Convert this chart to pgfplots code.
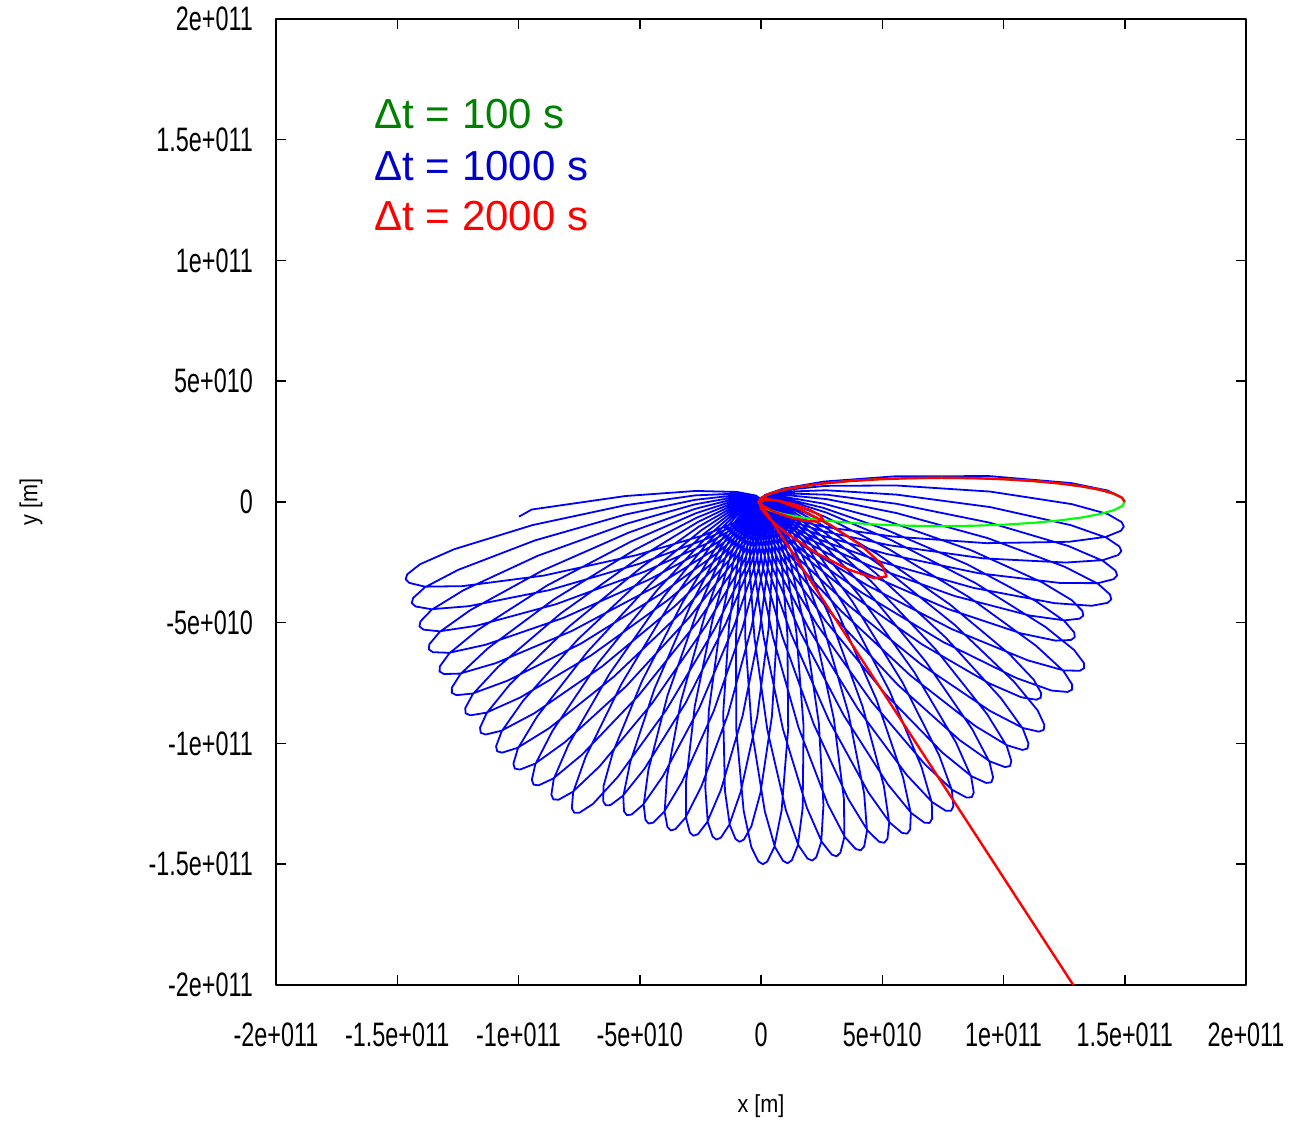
\documentclass[border=0pt]{standalone}
\usepackage{fontspec}
\setmainfont{Liberation Sans}
\newfontfamily\tickfont[FakeStretch=0.69]{Liberation Sans}
\newfontfamily\labfont[FakeStretch=0.88]{Liberation Sans}
\usepackage{pgfplots}
\pgfplotsset{compat=1.18}
\usepgfplotslibrary{polar}
\definecolor{gline}{RGB}{0,255,0}
\definecolor{gtext}{RGB}{0,128,0}
\definecolor{btext}{RGB}{0,0,204}
\definecolor{bline}{RGB}{0,0,255}
\definecolor{rline}{RGB}{255,0,0}
\begin{document}
\begin{tikzpicture}
\begin{axis}[
  scale only axis, width=323.3pt, height=322pt,
  xmin=-2,xmax=2,ymin=-2,ymax=2,
  xtick={-2,-1.5,-1,-0.5,0,0.5,1,1.5,2},
  ytick={-2,-1.5,-1,-0.5,0,0.5,1,1.5,2},
  xticklabels={-2e+011,-1.5e+011,-1e+011,-5e+010,0,5e+010,1e+011,1.5e+011,2e+011},
  yticklabels={-2e+011,-1.5e+011,-1e+011,-5e+010,0,5e+010,1e+011,1.5e+011,2e+011},
  tick align=inside, major tick length=3.3pt,
  every tick/.style={black, line width=0.5pt},
  axis line style={black, line width=0.5pt},
  xticklabel style={font=\tickfont\fontsize{11.3}{13}\selectfont, yshift=-9.0pt},
  yticklabel style={font=\tickfont\fontsize{11.3}{13}\selectfont, xshift=-4.2pt},
  xlabel={x [m]}, ylabel={y [m]},
  xlabel style={font=\labfont\fontsize{8.2}{10}\selectfont, at={(axis description cs:0.5,-0.125)}, anchor=center},
  ylabel style={font=\labfont\fontsize{8.2}{10}\selectfont, at={(axis description cs:-0.2527,0.5)}, anchor=center},
  line join=round,
]
% Delta t = 1000 s (polar data: angle in degrees, radius in 1e11 m)
\addplot[bline, line width=0.6pt, data cs=polar, no markers] coordinates {
(0,1.5) (0.7,1.489) (1.9,1.430) (3.5,1.281) (6.5,0.946) (10.9,0.560) (18.0,0.273) (31.1,0.107) (61.1,0.033) (180,0.01)
(-65.0,0.033) (-35.0,0.107) (-21.9,0.273) (-14.8,0.560) (-10.4,0.946) (-7.4,1.281) (-5.8,1.430) (-4.6,1.489) (-3.9,1.5) (-3.2,1.489) (-2.0,1.430) (-0.4,1.281) (2.6,0.946) (7.0,0.560) (14.1,0.273) (27.2,0.107) (57.2,0.033) (176.1,0.01)
(-68.9,0.033) (-38.9,0.107) (-25.8,0.273) (-18.7,0.560) (-14.3,0.946) (-11.3,1.281) (-9.7,1.430) (-8.5,1.489) (-7.8,1.5) (-7.1,1.489) (-5.9,1.430) (-4.3,1.281) (-1.3,0.946) (3.1,0.560) (10.2,0.273) (23.3,0.107) (53.3,0.033) (172.2,0.01)
(-72.8,0.033) (-42.8,0.107) (-29.7,0.273) (-22.6,0.560) (-18.2,0.946) (-15.2,1.281) (-13.6,1.430) (-12.4,1.489) (-11.7,1.5) (-11.0,1.489) (-9.8,1.430) (-8.2,1.281) (-5.2,0.946) (-0.8,0.560) (6.3,0.273) (19.4,0.107) (49.4,0.033) (168.3,0.01)
(-76.7,0.033) (-46.7,0.107) (-33.6,0.273) (-26.5,0.560) (-22.1,0.946) (-19.1,1.281) (-17.5,1.430) (-16.3,1.489) (-15.6,1.5) (-14.9,1.489) (-13.7,1.430) (-12.1,1.281) (-9.1,0.946) (-4.7,0.560) (2.4,0.273) (15.5,0.107) (45.5,0.033) (164.4,0.01)
(-80.6,0.031) (-50.6,0.101) (-37.5,0.257) (-30.4,0.526) (-26.0,0.889) (-23.0,1.204) (-21.4,1.344) (-20.2,1.400) (-19.5,1.41) (-18.8,1.400) (-17.6,1.344) (-16.0,1.204) (-13.0,0.889) (-8.6,0.526) (-1.5,0.257) (11.6,0.101) (41.6,0.031) (160.5,0.01)
(-84.5,0.031) (-54.5,0.101) (-41.4,0.257) (-34.3,0.526) (-29.9,0.889) (-26.9,1.204) (-25.3,1.344) (-24.1,1.400) (-23.4,1.41) (-22.7,1.400) (-21.5,1.344) (-19.9,1.204) (-16.9,0.889) (-12.5,0.526) (-5.4,0.257) (7.7,0.101) (37.7,0.031) (156.6,0.01)
(-88.4,0.033) (-58.4,0.107) (-45.3,0.273) (-38.2,0.560) (-33.8,0.946) (-30.8,1.281) (-29.2,1.430) (-28.0,1.489) (-27.3,1.5) (-26.6,1.489) (-25.4,1.430) (-23.8,1.281) (-20.8,0.946) (-16.4,0.560) (-9.3,0.273) (3.8,0.107) (33.8,0.033) (152.7,0.01)
(-92.3,0.033) (-62.3,0.107) (-49.2,0.273) (-42.1,0.560) (-37.7,0.946) (-34.7,1.281) (-33.1,1.430) (-31.9,1.489) (-31.2,1.5) (-30.5,1.489) (-29.3,1.430) (-27.7,1.281) (-24.7,0.946) (-20.3,0.560) (-13.2,0.273) (-0.1,0.107) (29.9,0.033) (148.8,0.01)
(-96.2,0.031) (-66.2,0.101) (-53.1,0.257) (-46.0,0.526) (-41.6,0.889) (-38.6,1.204) (-37.0,1.344) (-35.8,1.400) (-35.1,1.41) (-34.4,1.400) (-33.2,1.344) (-31.6,1.204) (-28.6,0.889) (-24.2,0.526) (-17.1,0.257) (-4.0,0.101) (26.0,0.031) (144.9,0.01)
(-100.1,0.033) (-70.1,0.107) (-57.0,0.273) (-49.9,0.560) (-45.5,0.946) (-42.5,1.281) (-40.9,1.430) (-39.7,1.489) (-39.0,1.5) (-38.3,1.489) (-37.1,1.430) (-35.5,1.281) (-32.5,0.946) (-28.1,0.560) (-21.0,0.273) (-7.9,0.107) (22.1,0.033) (141.0,0.01)
(-104.0,0.033) (-74.0,0.107) (-60.9,0.273) (-53.8,0.560) (-49.4,0.946) (-46.4,1.281) (-44.8,1.430) (-43.6,1.489) (-42.9,1.5) (-42.2,1.489) (-41.0,1.430) (-39.4,1.281) (-36.4,0.946) (-32.0,0.560) (-24.9,0.273) (-11.8,0.107) (18.2,0.033) (137.1,0.01)
(-107.9,0.033) (-77.9,0.107) (-64.8,0.273) (-57.7,0.560) (-53.3,0.946) (-50.3,1.281) (-48.7,1.430) (-47.5,1.489) (-46.8,1.5) (-46.1,1.489) (-44.9,1.430) (-43.3,1.281) (-40.3,0.946) (-35.9,0.560) (-28.8,0.273) (-15.7,0.107) (14.3,0.033) (133.2,0.01)
(-111.8,0.033) (-81.8,0.107) (-68.7,0.273) (-61.6,0.560) (-57.2,0.946) (-54.2,1.281) (-52.6,1.430) (-51.4,1.489) (-50.7,1.5) (-50.0,1.489) (-48.8,1.430) (-47.2,1.281) (-44.2,0.946) (-39.8,0.560) (-32.7,0.273) (-19.6,0.107) (10.4,0.033) (129.3,0.01)
(-115.7,0.033) (-85.7,0.107) (-72.6,0.273) (-65.5,0.560) (-61.1,0.946) (-58.1,1.281) (-56.5,1.430) (-55.3,1.489) (-54.6,1.5) (-53.9,1.489) (-52.7,1.430) (-51.1,1.281) (-48.1,0.946) (-43.7,0.560) (-36.6,0.273) (-23.5,0.107) (6.5,0.033) (125.4,0.01)
(-119.6,0.033) (-89.6,0.107) (-76.5,0.273) (-69.4,0.560) (-65.0,0.946) (-62.0,1.281) (-60.4,1.430) (-59.2,1.489) (-58.5,1.5) (-57.8,1.489) (-56.6,1.430) (-55.0,1.281) (-52.0,0.946) (-47.6,0.560) (-40.5,0.273) (-27.4,0.107) (2.6,0.033) (121.5,0.01)
(-123.5,0.033) (-93.5,0.107) (-80.4,0.273) (-73.3,0.560) (-68.9,0.946) (-65.9,1.281) (-64.3,1.430) (-63.1,1.489) (-62.4,1.5) (-61.7,1.489) (-60.5,1.430) (-58.9,1.281) (-55.9,0.946) (-51.5,0.560) (-44.4,0.273) (-31.3,0.107) (-1.3,0.033) (117.6,0.01)
(-127.4,0.033) (-97.4,0.107) (-84.3,0.273) (-77.2,0.560) (-72.8,0.946) (-69.8,1.281) (-68.2,1.430) (-67.0,1.489) (-66.3,1.5) (-65.6,1.489) (-64.4,1.430) (-62.8,1.281) (-59.8,0.946) (-55.4,0.560) (-48.3,0.273) (-35.2,0.107) (-5.2,0.033) (113.7,0.01)
(-131.3,0.033) (-101.3,0.107) (-88.2,0.273) (-81.1,0.560) (-76.7,0.946) (-73.7,1.281) (-72.1,1.430) (-70.9,1.489) (-70.2,1.5) (-69.5,1.489) (-68.3,1.430) (-66.7,1.281) (-63.7,0.946) (-59.3,0.560) (-52.2,0.273) (-39.1,0.107) (-9.1,0.033) (109.8,0.01)
(-135.2,0.033) (-105.2,0.107) (-92.1,0.273) (-85.0,0.560) (-80.6,0.946) (-77.6,1.281) (-76.0,1.430) (-74.8,1.489) (-74.1,1.5) (-73.4,1.489) (-72.2,1.430) (-70.6,1.281) (-67.6,0.946) (-63.2,0.560) (-56.1,0.273) (-43.0,0.107) (-13.0,0.033) (105.9,0.01)
(-139.1,0.033) (-109.1,0.107) (-96.0,0.273) (-88.9,0.560) (-84.5,0.946) (-81.5,1.281) (-79.9,1.430) (-78.7,1.489) (-78.0,1.5) (-77.3,1.489) (-76.1,1.430) (-74.5,1.281) (-71.5,0.946) (-67.1,0.560) (-60.0,0.273) (-46.9,0.107) (-16.9,0.033) (102.0,0.01)
(-143.0,0.033) (-113.0,0.107) (-99.9,0.273) (-92.8,0.560) (-88.4,0.946) (-85.4,1.281) (-83.8,1.430) (-82.6,1.489) (-81.9,1.5) (-81.2,1.489) (-80.0,1.430) (-78.4,1.281) (-75.4,0.946) (-71.0,0.560) (-63.9,0.273) (-50.8,0.107) (-20.8,0.033) (98.1,0.01)
(-146.9,0.033) (-116.9,0.107) (-103.8,0.273) (-96.7,0.560) (-92.3,0.946) (-89.3,1.281) (-87.7,1.430) (-86.5,1.489) (-85.8,1.5) (-85.1,1.489) (-83.9,1.430) (-82.3,1.281) (-79.3,0.946) (-74.9,0.560) (-67.8,0.273) (-54.7,0.107) (-24.7,0.033) (94.2,0.01)
(-150.8,0.033) (-120.8,0.107) (-107.7,0.273) (-100.6,0.560) (-96.2,0.946) (-93.2,1.281) (-91.6,1.430) (-90.4,1.489) (-89.7,1.5) (-89.0,1.489) (-87.8,1.430) (-86.2,1.281) (-83.2,0.946) (-78.8,0.560) (-71.7,0.273) (-58.6,0.107) (-28.6,0.033) (90.3,0.01)
(-154.7,0.031) (-124.7,0.101) (-111.6,0.257) (-104.5,0.526) (-100.1,0.889) (-97.1,1.204) (-95.5,1.344) (-94.3,1.400) (-93.6,1.41) (-92.9,1.400) (-91.7,1.344) (-90.1,1.204) (-87.1,0.889) (-82.7,0.526) (-75.6,0.257) (-62.5,0.101) (-32.5,0.031) (86.4,0.01)
(-158.6,0.031) (-128.6,0.101) (-115.5,0.257) (-108.4,0.526) (-104.0,0.889) (-101.0,1.204) (-99.4,1.344) (-98.2,1.400) (-97.5,1.41) (-96.8,1.400) (-95.6,1.344) (-94.0,1.204) (-91.0,0.889) (-86.6,0.526) (-79.5,0.257) (-66.4,0.101) (-36.4,0.031) (82.5,0.01)
(-162.5,0.031) (-132.5,0.101) (-119.4,0.257) (-112.3,0.526) (-107.9,0.889) (-104.9,1.204) (-103.3,1.344) (-102.1,1.400) (-101.4,1.41) (-100.7,1.400) (-99.5,1.344) (-97.9,1.204) (-94.9,0.889) (-90.5,0.526) (-83.4,0.257) (-70.3,0.101) (-40.3,0.031) (78.6,0.01)
(-166.4,0.031) (-136.4,0.101) (-123.3,0.257) (-116.2,0.526) (-111.8,0.889) (-108.8,1.204) (-107.2,1.344) (-106.0,1.400) (-105.3,1.41) (-104.6,1.400) (-103.4,1.344) (-101.8,1.204) (-98.8,0.889) (-94.4,0.526) (-87.3,0.257) (-74.2,0.101) (-44.2,0.031) (74.7,0.01)
(-170.3,0.031) (-140.3,0.101) (-127.2,0.257) (-120.1,0.526) (-115.7,0.889) (-112.7,1.204) (-111.1,1.344) (-109.9,1.400) (-109.2,1.41) (-108.5,1.400) (-107.3,1.344) (-105.7,1.204) (-102.7,0.889) (-98.3,0.526) (-91.2,0.257) (-78.1,0.101) (-48.1,0.031) (70.8,0.01)
(-174.2,0.031) (-144.2,0.101) (-131.1,0.257) (-124.0,0.526) (-119.6,0.889) (-116.6,1.204) (-115.0,1.344) (-113.8,1.400) (-113.1,1.41) (-112.4,1.400) (-111.2,1.344) (-109.6,1.204) (-106.6,0.889) (-102.2,0.526) (-95.1,0.257) (-82.0,0.101) (-52.0,0.031) (66.9,0.01)
(-178.1,0.031) (-148.1,0.101) (-135.0,0.257) (-127.9,0.526) (-123.5,0.889) (-120.5,1.204) (-118.9,1.344) (-117.7,1.400) (-117.0,1.41) (-116.3,1.400) (-115.1,1.344) (-113.5,1.204) (-110.5,0.889) (-106.1,0.526) (-99.0,0.257) (-85.9,0.101) (-55.9,0.031) (63.0,0.01)
(-182.0,0.033) (-152.0,0.107) (-138.9,0.273) (-131.8,0.560) (-127.4,0.946) (-124.4,1.281) (-122.8,1.430) (-121.6,1.489) (-120.9,1.5) (-120.2,1.489) (-119.0,1.430) (-117.4,1.281) (-114.4,0.946) (-110.0,0.560) (-102.9,0.273) (-89.8,0.107) (-59.8,0.033) (59.1,0.01)
(-185.9,0.033) (-155.9,0.107) (-142.8,0.273) (-135.7,0.560) (-131.3,0.946) (-128.3,1.281) (-126.7,1.430) (-125.5,1.489) (-124.8,1.5) (-124.1,1.489) (-122.9,1.430) (-121.3,1.281) (-118.3,0.946) (-113.9,0.560) (-106.8,0.273) (-93.7,0.107) (-63.7,0.033) (55.2,0.01)
(-189.8,0.033) (-159.8,0.107) (-146.7,0.273) (-139.6,0.560) (-135.2,0.946) (-132.2,1.281) (-130.6,1.430) (-129.4,1.489) (-128.7,1.5) (-128.0,1.489) (-126.8,1.430) (-125.2,1.281) (-122.2,0.946) (-117.8,0.560) (-110.7,0.273) (-97.6,0.107) (-67.6,0.033) (51.3,0.01)
(-193.7,0.033) (-163.7,0.107) (-150.6,0.273) (-143.5,0.560) (-139.1,0.946) (-136.1,1.281) (-134.5,1.430) (-133.3,1.489) (-132.6,1.5) (-131.9,1.489) (-130.7,1.430) (-129.1,1.281) (-126.1,0.946) (-121.7,0.560) (-114.6,0.273) (-101.5,0.107) (-71.5,0.033) (47.4,0.01)
(-197.6,0.033) (-167.6,0.107) (-154.5,0.273) (-147.4,0.560) (-143.0,0.946) (-140.0,1.281) (-138.4,1.430) (-137.2,1.489) (-136.5,1.5) (-135.8,1.489) (-134.6,1.430) (-133.0,1.281) (-130.0,0.946) (-125.6,0.560) (-118.5,0.273) (-105.4,0.107) (-75.4,0.033) (43.5,0.01)
(-201.5,0.033) (-171.5,0.107) (-158.4,0.273) (-151.3,0.560) (-146.9,0.946) (-143.9,1.281) (-142.3,1.430) (-141.1,1.489) (-140.4,1.5) (-139.7,1.489) (-138.5,1.430) (-136.9,1.281) (-133.9,0.946) (-129.5,0.560) (-122.4,0.273) (-109.3,0.107) (-79.3,0.033) (39.6,0.01)
(-205.4,0.033) (-175.4,0.107) (-162.3,0.273) (-155.2,0.560) (-150.8,0.946) (-147.8,1.281) (-146.2,1.430) (-145.0,1.489) (-144.3,1.5) (-143.6,1.489) (-142.4,1.430) (-140.8,1.281) (-137.8,0.946) (-133.4,0.560) (-126.3,0.273) (-113.2,0.107) (-83.2,0.033) (35.7,0.01)
(-209.3,0.033) (-179.3,0.107) (-166.2,0.273) (-159.1,0.560) (-154.7,0.946) (-151.7,1.281) (-150.1,1.430) (-148.9,1.489) (-148.2,1.5) (-147.5,1.489) (-146.3,1.430) (-144.7,1.281) (-141.7,0.946) (-137.3,0.560) (-130.2,0.273) (-117.1,0.107) (-87.1,0.033) (31.8,0.01)
(-213.2,0.033) (-183.2,0.107) (-170.1,0.273) (-163.0,0.560) (-158.6,0.946) (-155.6,1.281) (-154.0,1.430) (-152.8,1.489) (-152.1,1.5) (-151.4,1.489) (-150.2,1.430) (-148.6,1.281) (-145.6,0.946) (-141.2,0.560) (-134.1,0.273) (-121.0,0.107) (-91.0,0.033) (27.9,0.01)
(-217.1,0.033) (-187.1,0.107) (-174.0,0.273) (-166.9,0.560) (-162.5,0.946) (-159.5,1.281) (-157.9,1.430) (-156.7,1.489) (-156.0,1.5) (-155.3,1.489) (-154.1,1.430) (-152.5,1.281) (-149.5,0.946) (-145.1,0.560) (-138.0,0.273) (-124.9,0.107) (-94.9,0.033) (24.0,0.01)
(-221.0,0.033) (-191.0,0.107) (-177.9,0.273) (-170.8,0.560) (-166.4,0.946) (-163.4,1.281) (-161.8,1.430) (-160.6,1.489) (-159.9,1.5) (-159.2,1.489) (-158.0,1.430) (-156.4,1.281) (-153.4,0.946) (-149.0,0.560) (-141.9,0.273) (-128.8,0.107) (-98.8,0.033) (20.1,0.01)
(-224.9,0.033) (-194.9,0.107) (-181.8,0.273) (-174.7,0.560) (-170.3,0.946) (-167.3,1.281) (-165.7,1.430) (-164.5,1.489) (-163.8,1.5) (-163.1,1.489) (-161.9,1.430) (-160.3,1.281) (-157.3,0.946) (-152.9,0.560) (-145.8,0.273) (-132.7,0.107) (-102.7,0.033) (16.2,0.01)
(-228.8,0.033) (-198.8,0.107) (-185.7,0.273) (-178.6,0.560) (-174.2,0.946) (-171.2,1.281) (-169.6,1.430) (-168.4,1.489) (-167.7,1.5) (-167.0,1.489) (-165.8,1.430) (-164.2,1.281) (-161.2,0.946) (-156.8,0.560) (-149.7,0.273) (-136.6,0.107) (-106.6,0.033) (12.3,0.01)
(-232.7,0.033) (-202.7,0.107) (-189.6,0.273) (-182.5,0.560) (-178.1,0.946) (-176.5,1.0)
};
% Delta t = 100 s
\addplot[gline, line width=0.7pt, no markers] coordinates {
(1.5,0) (1.4885,0.0174) (1.4545,0.0342) (1.3988,0.05) (1.3233,0.0643) (1.2303,0.0766) (1.1225,0.0866) (1.0032,0.094) (0.8761,0.0985) (0.745,0.1) (0.6139,0.0985) (0.4868,0.094) (0.3675,0.0866) (0.2597,0.0766) (0.1667,0.0643) (0.0912,0.05) (0.0355,0.0342) (0.0015,0.0174) (-0.01,0)
(0.0015,-0.0174) (0.0355,-0.0342) (0.0912,-0.05) (0.1667,-0.0643) (0.2597,-0.0766) (0.3675,-0.0866) (0.4868,-0.094) (0.6139,-0.0985) (0.745,-0.1) (0.8761,-0.0985) (1.0032,-0.094) (1.1225,-0.0866) (1.2303,-0.0766) (1.3233,-0.0643) (1.3988,-0.05) (1.4545,-0.0342) (1.4885,-0.0174) (1.5,0)
};
% Delta t = 2000 s
\addplot[rline, line width=0.8pt, no markers] coordinates {
(1.5,0) (1.4885,0.0174) (1.4545,0.0342) (1.3988,0.05) (1.3233,0.0643) (1.2303,0.0766) (1.1225,0.0866) (1.0032,0.094) (0.8761,0.0985) (0.745,0.1) (0.6139,0.0985) (0.4868,0.094) (0.3675,0.0866) (0.2597,0.0766) (0.1667,0.0643) (0.0912,0.05) (0.0355,0.0342) (0.0015,0.0174) (-0.01,0)
};
\addplot[rline, line width=0.8pt, data cs=polar, no markers] coordinates {
(180,0.01) (-58.8,0.0206) (-36.6,0.0689) (-28.0,0.1349) (-22.9,0.201) (-19.2,0.2493) (-16,0.267) (-12.8,0.2493) (-9.1,0.201) (-4.0,0.1349) (4.6,0.0689) (26.8,0.0206) (164,0.003)
(-93.6,0.025) (-63.8,0.0768) (-51.95,0.156) (-43.1,0.305) (-37.9,0.454) (-34.1,0.563) (-30.8,0.603) (-27.5,0.563) (-23.7,0.454) (-18.5,0.305) (-9.65,0.156) (2.2,0.0768) (32.0,0.025) (149.2,0.007)
};
\addplot[rline, line width=0.8pt, no markers] coordinates {
(-0.006,0.004) (0.0013,-0.012) (1.32,-2.05)
};
\node[anchor=base west, inner sep=0pt, text=gtext, font=\fontsize{14}{16}\selectfont] at (axis cs:-1.596,1.546) {Δt = 100 s};
\node[anchor=base west, inner sep=0pt, text=btext, font=\fontsize{14}{16}\selectfont] at (axis cs:-1.596,1.332) {Δt = 1000 s};
\node[anchor=base west, inner sep=0pt, text=rline, font=\fontsize{14}{16}\selectfont] at (axis cs:-1.596,1.122) {Δt = 2000 s};
\end{axis}
\pgfresetboundingbox
\path[use as bounding box] (-92pt,-46pt) rectangle (338.3pt,328.3pt);
\end{tikzpicture}
\end{document}
